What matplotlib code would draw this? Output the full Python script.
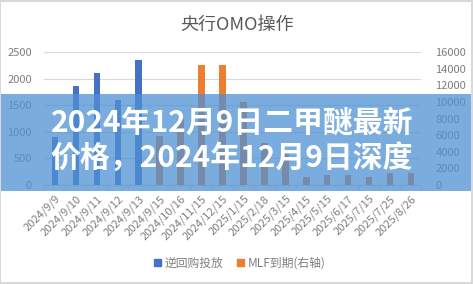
import matplotlib
matplotlib.use('Agg')
import matplotlib.pyplot as plt
from matplotlib.patches import Rectangle, Patch
import numpy as np

plt.rcParams['font.family'] = ['Noto Sans CJK SC', 'DejaVu Sans']

dates = ['2024/9/9', '2024/9/10', '2024/9/11', '2024/9/12', '2024/9/13', '2024/9/15',
         '2024/10/16', '2024/11/15', '2024/12/15', '2025/1/15', '2025/2/18', '2025/3/15',
         '2025/4/15', '2025/5/15', '2025/6/17', '2025/7/15', '2025/7/25', '2025/8/26']
reverse_repo = [910, 1860, 2100, 1600, 2345, 0, 0, 0, 0, 0, 0, 0, 0, 0, 0, 0, 0, 0]
mlf_due = [0, 0, 0, 0, 0, 5910, 7890, 14500, 14500, 9950, 5000, 3800,
           1000, 1250, 1200, 1000, 1400, 1500]

title = '央行OMO操作'
banner_lines = ['2024年12月9日二甲醚最新', '价格，2024年12月9日深度']

blue = '#4472c4'
orange = '#ed7d31'
grey_txt = '#7f7f7f'
grid_c = '#d9d9d9'

fig = plt.figure(figsize=(4.73, 2.84), dpi=100)
ax = fig.add_axes([0.094, 0.3486, 0.797, 0.468])
ax2 = ax.twinx()

x = np.arange(len(dates))
ax.bar(x, reverse_repo, width=0.31, color=blue, zorder=3)
ax2.bar(x, mlf_due, width=0.31, color=orange, zorder=3)

ax.set_xlim(-0.5, len(dates) - 0.5)
ax.set_ylim(0, 2500)
ax2.set_ylim(0, 16000)
ax.set_yticks(range(0, 2501, 500))
ax2.set_yticks(range(0, 16001, 2000))
ax.yaxis.grid(True, color=grid_c, linewidth=0.8, zorder=0)
ax.set_axisbelow(True)

for a in (ax, ax2):
    for s in a.spines.values():
        s.set_visible(False)
    a.tick_params(axis='y', length=0, labelsize=8, labelcolor=grey_txt)
ax.spines['bottom'].set_visible(True)
ax.spines['bottom'].set_color(grid_c)
ax.tick_params(axis='y', pad=9)
ax2.tick_params(axis='y', pad=10)

ax.set_xticks(x)
ax.set_xticklabels(dates, rotation=45, ha='right', rotation_mode='anchor',
                   fontsize=8, color=grey_txt)
ax.tick_params(axis='x', length=0, pad=6)
ax.set_xticks(np.arange(-0.5, len(dates), 1), minor=True)
ax.tick_params(axis='x', which='minor', length=3, color=grid_c, direction='out')

fig.text(0.5, 1 - 25 / 284, title, ha='center', va='center', fontsize=13, color='#595959')

handles = [Patch(color=blue), Patch(color=orange)]
fig.legend(handles, ['逆回购投放', 'MLF到期(右轴)'], loc='center', bbox_to_anchor=(0.507, 0.074),
           ncol=2, frameon=False, fontsize=8.5, handlelength=0.55, handleheight=0.55,
           handletextpad=0.3, columnspacing=1.2, labelcolor=grey_txt)

# semi-transparent banner over the chart
fig.patches.append(Rectangle((0, (284 - 191) / 284), 1, 97 / 284, transform=fig.transFigure,
                             facecolor=(78 / 255, 144 / 255, 211 / 255), alpha=0.75,
                             edgecolor='none', zorder=5))
fig.text(232 / 473, (284 - 123) / 284, banner_lines[0], ha='center', va='center',
         fontsize=21.5, fontweight='bold', color='white', zorder=6)
fig.text(232 / 473, (284 - 158) / 284, banner_lines[1], ha='center', va='center',
         fontsize=21.5, fontweight='bold', color='white', zorder=6)

fig.patches.append(Rectangle((0.001, 0.002), 0.997, 0.995, transform=fig.transFigure,
                             fill=False, edgecolor=grid_c, linewidth=1.5, zorder=7))

fig.savefig('out.png', dpi=100)
